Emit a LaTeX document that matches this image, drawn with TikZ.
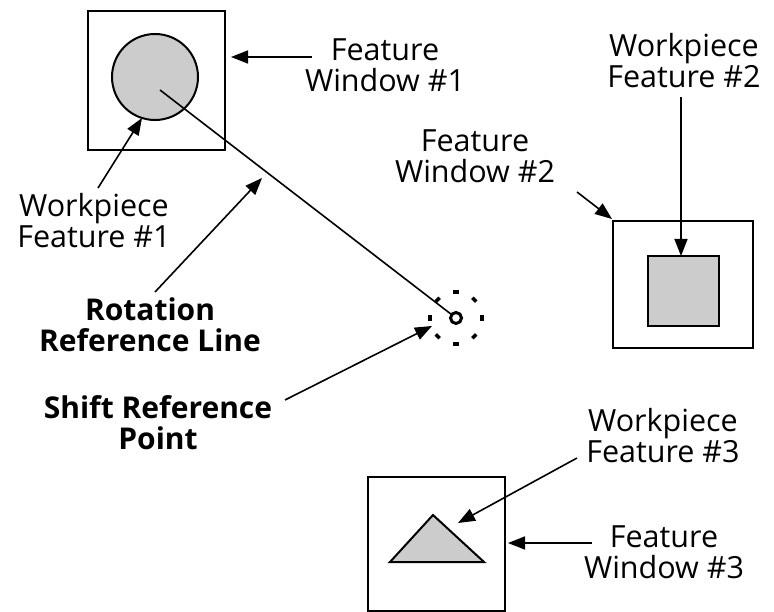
\documentclass[tikz,border=0pt]{standalone}
\usepackage{fontspec}
\setmainfont{Open Sans}
\usetikzlibrary{arrows.meta,calc}
\begin{document}
\begin{tikzpicture}[x=1pt,y=-1pt,
  box/.style={draw, line width=2pt},
  feat/.style={draw, line width=2pt, fill=black!20},
  arr/.style={-{Triangle[length=17pt,width=13pt]}, line width=1.6pt},
  lbl/.style={font=\fontsize{30.5}{31}\selectfont, align=center, inner sep=0pt},
  blbl/.style={font=\bfseries\fontsize{30}{31}\selectfont, align=center, inner sep=0pt}]
\useasboundingbox (0,0) rectangle (774,612);

% windows and features
\draw[box] (88,11) rectangle (225,150);
\draw[feat] (155,77) circle[radius=43];
\draw[box] (613,221) rectangle (753,348);
\draw[feat] (648,256) rectangle (719,326);
\draw[box] (368,477) rectangle (505,611);
\draw[feat] (390,562) -- (433,515) -- (484,562) -- cycle;

% shift reference point
\coordinate (sp) at (456,318);
\draw[line width=3pt] (sp) circle[radius=5.5];
\foreach \a in {0,45,...,315}
  \draw[line width=3.6pt] ($(sp)+(\a-6:26)$) arc[start angle=\a-6, end angle=\a+6, radius=26];

% rotation reference line
\coordinate (rs) at (160,90);
\draw[line width=1.6pt, shorten >=6pt] (rs) -- (sp);

% labels
\node[lbl] (fw1) at (385,65) {Feature\\Window \#1};
\node[lbl] (wf2) at (684,61) {Workpiece\\Feature \#2};
\node[lbl] (fw2) at (475,156) {Feature\\Window \#2};
\node[lbl] (wf1) at (94,221) {Workpiece\\Feature \#1};
\node[blbl] (rrl) at (150,325) {Rotation\\Reference Line};
\node[blbl] (srp) at (158,423) {Shift Reference\\Point};
\node[lbl] (wf3) at (663,436) {Workpiece\\Feature \#3};
\node[lbl] (fw3) at (664,552) {Feature\\Window \#3};

% connector ends
\coordinate (fw1s) at (312,57);   \coordinate (fw1t) at (231,57);
\coordinate (wf1s) at (98,188);   \coordinate (wf1t) at (142,118);
\coordinate (rrls) at (155,292);  \coordinate (rrlt) at (262,178);
\coordinate (srps) at (285,400);  \coordinate (srpt) at (432,326);
\coordinate (fw2s) at (577,192);  \coordinate (fw2t) at (612,219);
\coordinate (wf2s) at (681,97);   \coordinate (wf2t) at (681,256);
\coordinate (wf3s) at (577,458);  \coordinate (wf3t) at (458,523);
\coordinate (fw3s) at (592,543);  \coordinate (fw3t) at (508,543);

\draw[arr] (fw1s) -- (fw1t);
\draw[arr] (wf1s) -- (wf1t);
\draw[arr] (rrls) -- (rrlt);
\draw[arr] (srps) -- (srpt);
\draw[arr] (fw2s) -- (fw2t);
\draw[arr] (wf2s) -- (wf2t);
\draw[arr] (wf3s) -- (wf3t);
\draw[arr] (fw3s) -- (fw3t);
\end{tikzpicture}
\end{document}
